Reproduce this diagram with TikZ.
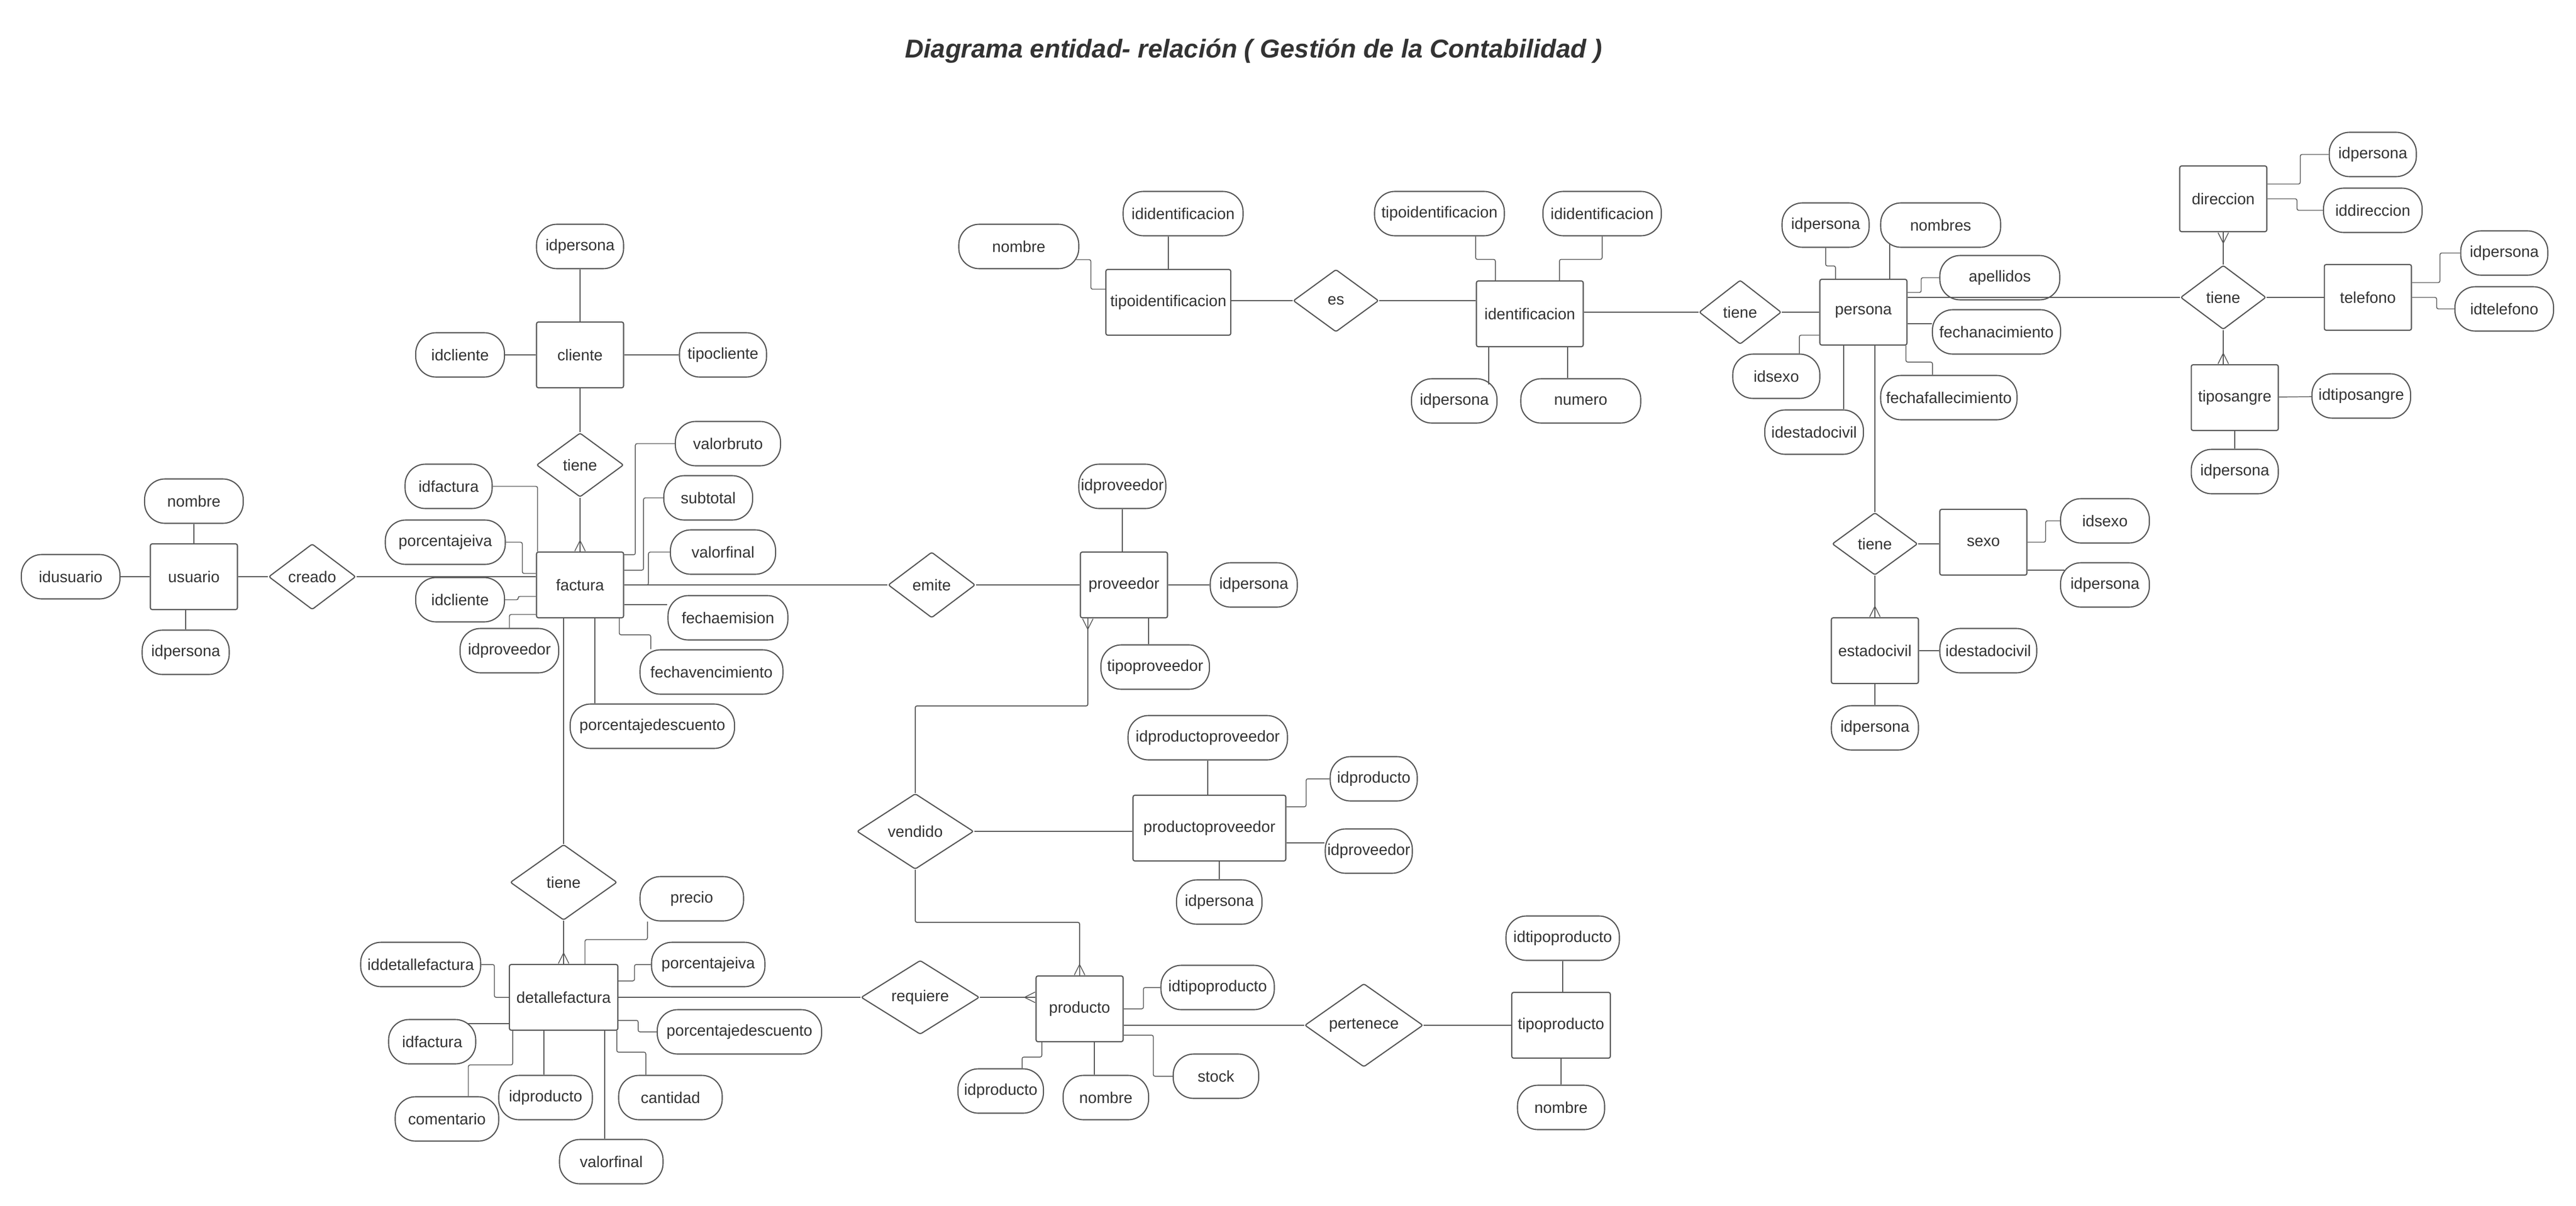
\documentclass[tikz,border=0pt]{standalone}
\usepackage{fontspec}
\setmainfont{Liberation Sans}
\usetikzlibrary{shapes.geometric,arrows.meta}
\definecolor{linegray}{HTML}{555555}
\definecolor{textgray}{HTML}{333333}

\begin{document}
\begin{tikzpicture}[
    x=0.05cm, y=-0.05cm,
    font=\fontsize{13.6}{16}\selectfont, text=textgray,
    entity/.style={rectangle, draw=linegray, line width=1pt, rounded corners=1.6pt, minimum width=2.65cm, minimum height=2cm, inner sep=1pt},
    rel/.style={diamond, draw=linegray, line width=1pt, rounded corners=1.5pt, minimum width=2.65cm, minimum height=2cm, inner sep=0pt},
    attr/.style={rectangle, draw=linegray, line width=1pt, rounded corners=0.62cm, minimum width=#1, minimum height=1.35cm, inner xsep=1pt},
    attr/.default=2.65cm,
    link/.style={draw=linegray, line width=0.7pt, rounded corners=1.5pt},
    many/.style={link, postaction={draw=linegray, line width=0.7pt, -{Straight Barb[reversed, length=0.32cm, width=0.32cm]}}}
]
    \useasboundingbox (0,0) rectangle (1567.67,734);

    \node[font=\fontsize{22.4}{26}\selectfont\bfseries\itshape] (titulo) at (763,31) {Diagrama entidad- relación ( Gestión de la Contabilidad )};

    % entidades
    \node[entity] (usuario) at (118,351) {usuario};
    \node[entity] (cliente) at (353,216) {cliente};
    \node[entity] (factura) at (353,356) {factura};
    \node[entity, minimum width=3.3cm] (detalle) at (343,607) {detallefactura};
    \node[entity] (proveedor) at (684,356) {proveedor};
    \node[entity, minimum width=4.65cm] (prodprov) at (736,504) {productoproveedor};
    \node[entity] (producto) at (657,614) {producto};
    \node[entity, minimum width=3cm] (tipoprod) at (950,624) {tipoproducto};
    \node[entity, minimum width=3.8cm] (tipoid) at (711,184) {tipoidentificacion};
    \node[entity, minimum width=3.25cm] (identif) at (931,191) {identificacion};
    \node[entity] (persona) at (1134,190) {persona};
    \node[entity] (direccion) at (1353,121) {direccion};
    \node[entity] (telefono) at (1441,181) {telefono};
    \node[entity] (tiposangre) at (1360,242) {tiposangre};
    \node[entity] (sexo) at (1207,330) {sexo};
    \node[entity] (estcivil) at (1141,396) {estadocivil};

    % relaciones
    \node[rel] (creado) at (190,351) {creado};
    \node[rel, minimum height=1.95cm] (tieneA) at (353,283) {tiene};
    \node[rel] (emite) at (567,356) {emite};
    \node[rel, minimum width=3.25cm, minimum height=2.3cm] (tieneB) at (343,537) {tiene};
    \node[rel, minimum width=3.55cm, minimum height=2.3cm] (vendido) at (557,506) {vendido};
    \node[rel, minimum width=3.6cm, minimum height=2.25cm] (requiere) at (560,607) {requiere};
    \node[rel, minimum width=3.6cm, minimum height=2.3cm] (pertenece) at (830,624) {pertenece};
    \node[rel, minimum width=2.6cm, minimum height=1.9cm] (es) at (813,183) {es};
    \node[rel, minimum width=2.5cm, minimum height=1.95cm] (tieneC) at (1059,190) {tiene};
    \node[rel, minimum width=2.6cm, minimum height=1.9cm] (tieneD) at (1141,331) {tiene};
    \node[rel, minimum width=2.6cm, minimum height=1.95cm] (tieneE) at (1353,181) {tiene};

    % atributos
    \node[attr=3cm] (usId) at (43,351) {idusuario};
    \node[attr=3cm] (usNombre) at (118,305) {nombre};
    \node[attr] (usPersona) at (113,397) {idpersona};
    \node[attr] (clPersona) at (353,150) {idpersona};
    \node[attr=2.7cm] (clId) at (280,216) {idcliente};
    \node[attr] (clTipo) at (440,216) {tipocliente};
    \node[attr=3.2cm] (faBruto) at (443,270) {valorbruto};
    \node[attr] (faId) at (273,296) {idfactura};
    \node[attr=2.7cm] (faSubtotal) at (431,303) {subtotal};
    \node[attr=3.65cm] (faIva) at (271,330) {porcentajeiva};
    \node[attr=3.2cm] (faFinal) at (440,336) {valorfinal};
    \node[attr=2.7cm] (faCliente) at (280,365) {idcliente};
    \node[attr=3.65cm] (faEmision) at (443,376) {fechaemision};
    \node[attr=3cm] (faProveedor) at (310,396) {idproveedor};
    \node[attr=4.35cm] (faVence) at (433,409) {fechavencimiento};
    \node[attr=5cm] (faDescuento) at (397,442) {porcentajedescuento};
    \node[attr=3.15cm] (dePrecio) at (421,547) {precio};
    \node[attr=3.45cm] (deIva) at (431,587) {porcentajeiva};
    \node[attr=3.65cm] (deId) at (256,587) {iddetallefactura};
    \node[attr=5cm] (deDescuento) at (450,628) {porcentajedescuento};
    \node[attr] (deFactura) at (263,634) {idfactura};
    \node[attr=3.15cm] (deComentario) at (272,681) {comentario};
    \node[attr=2.85cm] (deProducto) at (332,668) {idproducto};
    \node[attr=3.15cm] (deFinal) at (372,707) {valorfinal};
    \node[attr=3.15cm] (deCantidad) at (408,668) {cantidad};
    \node[attr=4.85cm] (ppId) at (735,449) {idproductoproveedor};
    \node[attr] (ppProducto) at (836,474) {idproducto};
    \node[attr] (ppProveedor) at (833,518) {idproveedor};
    \node[attr=2.6cm] (ppPersona) at (742,549) {idpersona};
    \node[attr] (pvId) at (683,296) {idproveedor};
    \node[attr] (pvPersona) at (763,356) {idpersona};
    \node[attr=3.3cm] (pvTipo) at (703,406) {tipoproveedor};
    \node[attr=2.6cm] (prId) at (609,664) {idproducto};
    \node[attr=2.6cm] (prNombre) at (673,668) {nombre};
    \node[attr=3.45cm] (prTipo) at (741,601) {idtipoproducto};
    \node[attr=2.6cm] (prStock) at (740,655) {stock};
    \node[attr=3.45cm] (tpId) at (951,571) {idtipoproducto};
    \node[attr] (tpNombre) at (950,674) {nombre};
    \node[attr=3.65cm] (tiNombre) at (620,150) {nombre};
    \node[attr=3.65cm] (tiId) at (720,130) {ididentificacion};
    \node[attr=3.95cm] (idTipo) at (876,130) {tipoidentificacion};
    \node[attr=3.6cm] (idId) at (975,130) {ididentificacion};
    \node[attr=2.6cm] (idPersona) at (885,244) {idpersona};
    \node[attr=3.65cm] (idNumero) at (962,244) {numero};
    \node[attr] (pePersona) at (1111,137) {idpersona};
    \node[attr=3.65cm] (peNombres) at (1181,137) {nombres};
    \node[attr=3.65cm] (peApellidos) at (1217,169) {apellidos};
    \node[attr=3.9cm] (peNacimiento) at (1215,202) {fechanacimiento};
    \node[attr=4.15cm] (peFallece) at (1186,242) {fechafallecimiento};
    \node[attr] (peSexo) at (1081,229) {idsexo};
    \node[attr=3cm] (peEstado) at (1104,263) {idestadocivil};
    \node[attr] (diPersona) at (1444,94) {idpersona};
    \node[attr=3cm] (diId) at (1444,128) {iddireccion};
    \node[attr] (tePersona) at (1524,154) {idpersona};
    \node[attr=3cm] (teId) at (1524,188) {idtelefono};
    \node[attr=3cm] (tsId) at (1437,241) {idtiposangre};
    \node[attr] (tsPersona) at (1360,287) {idpersona};
    \node[attr=2.7cm] (seId) at (1281,317) {idsexo};
    \node[attr=2.7cm] (sePersona) at (1281,356) {idpersona};
    \node[attr=2.95cm] (ecId) at (1210,396) {idestadocivil};
    \node[attr] (ecPersona) at (1141,443) {idpersona};

    % conexiones de las relaciones
    \draw[link] (usuario) -- (creado);
    \draw[link] (creado.east) -- (creado.east -| factura.west);
    \draw[link] (cliente) -- (tieneA);
    \draw[many] (tieneA) -- (factura);
    \draw[link] (factura) -- (emite);
    \draw[link] (emite) -- (proveedor);
    \draw[link] (factura.south -| tieneB) -- (tieneB);
    \draw[many] (tieneB) -- (detalle);
    \draw[link] (detalle) -- (requiere);
    \draw[many] (requiere.east) -- (requiere.east -| producto.west);
    \draw[many] (vendido.north) -- ++(0,-53) -| ([xshift=-1.1cm]proveedor.south);
    \draw[link] (vendido.east) -- (vendido.east -| prodprov.west);
    \draw[many] (vendido.south) -- ++(0,32) -| (producto.north);
    \draw[link] (pertenece.west -| producto.east) -- (pertenece.west);
    \draw[link] (pertenece) -- (tipoprod);
    \draw[link] (es.west -| tipoid.east) -- (es.west);
    \draw[link] (es.east) -- (es.east -| identif.west);
    \draw[link] (tieneC.west -| identif.east) -- (tieneC.west);
    \draw[link] (tieneC) -- (persona);
    \draw[link] (tieneE.west -| persona.east) -- (tieneE.west);
    \draw[many] (tieneE) -- (direccion);
    \draw[link] (tieneE) -- (telefono);
    \draw[many] (tieneE.south) -- (tieneE.south |- tiposangre.north);
    \draw[link] (tieneD.north |- persona.south) -- (tieneD.north);
    \draw[link] (tieneD.east) -- (tieneD.east -| sexo.west);
    \draw[many] (tieneD) -- (estcivil);

    % conexiones de los atributos
    \draw[link] (usId) -- (usuario);
    \draw[link] (usNombre) -- (usuario);
    \draw[link] (usPersona) -- (usPersona |- usuario.south);
    \draw[link] (clPersona) -- (cliente);
    \draw[link] (clId) -- (cliente);
    \draw[link] (clTipo) -- (cliente);
    \draw[link] (faBruto.west) -- ++(-24,0) |- ([yshift=-0.1cm]factura.north east);
    \draw[link] (faSubtotal.west) -- ++(-12,0) |- ([yshift=0.45cm]factura.east);
    \draw[link] (faFinal.west) -- ++(-13,0) |- (factura.east);
    \draw[link] ([yshift=-0.6cm]factura.east) -- ([yshift=-0.6cm]factura.east -| faEmision.west);
    \draw[link] ([xshift=-0.15cm]factura.south east) -- ++(0,10) -| ([xshift=-1.85cm]faVence.north);
    \draw[link] ([xshift=0.45cm]factura.south) -- ([xshift=0.45cm]factura.south |- faDescuento.north);
    \draw[link] (faId.east) -| ([xshift=0.05cm]factura.north west);
    \draw[link] (faIva.east) -- ++(10,0) |- ([yshift=0.35cm]factura.west);
    \draw[link] (faCliente.east) -- ++(8,0) |- ([yshift=-0.35cm]factura.west);
    \draw[link] (faProveedor.north) |- ([yshift=-0.9cm]factura.west);
    \draw[link] ([xshift=-1.35cm]dePrecio.south) -- ++(0,11) -| ([xshift=0.65cm]detalle.north);
    \draw[link] (deIva.west) -- ++(-10,0) |- ([yshift=0.5cm]detalle.east);
    \draw[link] (deId.east) -- ++(8,0) |- (detalle.west);
    \draw[link] ([yshift=-0.7cm]detalle.east) -- ++(12,0) |- (deDescuento.west);
    \draw[link] ([yshift=-0.8cm]detalle.west) -- ++(-25,0);
    \draw[link] ([xshift=0.65cm]deComentario.north) -- ++(0,-19) -| ([xshift=-1.55cm]detalle.south);
    \draw[link] ([xshift=-0.6cm]detalle.south) -- ([xshift=-0.6cm]detalle.south |- deProducto.north);
    \draw[link] ([xshift=1.25cm]detalle.south) -- ([xshift=1.25cm]detalle.south |- deFinal.north);
    \draw[link] ([xshift=-0.05cm]detalle.south east) -- ++(0,13) -| ([xshift=-0.75cm]deCantidad.north);
    \draw[link] ([xshift=-1.15cm]producto.south) -- ++(0,9) -| ([xshift=0.65cm]prId.north);
    \draw[link] ([xshift=0.45cm]producto.south) -- ([xshift=0.45cm]producto.south |- prNombre.north);
    \draw[link] (producto.east) -- ++(12,0) |- (prTipo.west);
    \draw[link] ([yshift=-0.8cm]producto.east) -- ++(18,0) |- (prStock.west);
    \draw[link] (tpId) -- (tpId |- tipoprod.north);
    \draw[link] (tpNombre) -- (tipoprod);
    \draw[link] (ppId) -- (ppId |- prodprov.north);
    \draw[link] ([yshift=0.65cm]prodprov.east) -- ++(12,0) |- (ppProducto.west);
    \draw[link] ([yshift=-0.45cm]prodprov.east) -- ([yshift=-0.45cm]prodprov.east -| ppProveedor.west);
    \draw[link] (ppPersona) -- (ppPersona |- prodprov.south);
    \draw[link] (pvId) -- (pvId |- proveedor.north);
    \draw[link] (pvPersona) -- (proveedor);
    \draw[link] ([xshift=0.75cm]proveedor.south) -- ([xshift=0.75cm]proveedor.south |- pvTipo.north);
    \draw[link] ([xshift=-0.1cm,yshift=-0.4cm]tiNombre.east) -- ++(9,0) |- ([yshift=0.4cm]tipoid.west);
    \draw[link] (tipoid.north) -- (tipoid.north |- tiId.south);
    \draw[link] ([xshift=1.1cm]idTipo.south) -- ++(0,14) -| ([xshift=-1.05cm]identif.north);
    \draw[link] (idId.south) -- ++(0,14) -| ([xshift=0.9cm]identif.north);
    \draw[link] ([xshift=-1.25cm]identif.south) -- ++(0,22.5);
    \draw[link] ([xshift=1.15cm]identif.south) -- ([xshift=1.15cm]identif.south |- idNumero.north);
    \draw[link] (pePersona.south) -- ++(0,11) -| ([xshift=-0.85cm]persona.north);
    \draw[link] ([xshift=0.8cm]persona.north) -- ++(0,-21.6);
    \draw[link] (peApellidos.west) -- ++(-11,0) |- ([yshift=0.6cm]persona.east);
    \draw[link] ([yshift=-0.35cm]persona.east) -- ([yshift=-0.35cm]persona.east -| peNacimiento.west);
    \draw[link] ([xshift=-0.05cm]persona.south east) -- ++(0,10) -| ([xshift=-0.5cm]peFallece.north);
    \draw[link] ([xshift=0.7cm]peSexo.north) |- ([yshift=-0.7cm]persona.west);
    \draw[link] ([xshift=-0.6cm]persona.south) -- ([xshift=-0.6cm]persona.south |- peEstado.north);
    \draw[link] ([yshift=0.45cm]direccion.east) -- ++(20,0) |- (diPersona.west);
    \draw[link] (direccion.east) -- ++(18,0) |- (diId.west);
    \draw[link] ([yshift=0.45cm]telefono.east) -- ++(17,0) |- (tePersona.west);
    \draw[link] (telefono.east) -- ++(15,0) |- (teId.west);
    \draw[link] (tiposangre) -- (tsId);
    \draw[link] (tsPersona) -- (tiposangre);
    \draw[link] (sexo.east) -- ++(11,0) |- (seId.west);
    \draw[link] ([yshift=-0.85cm]sexo.east) -- ([yshift=-0.85cm,xshift=0.14cm]sexo.east -| sePersona.west);
    \draw[link] (estcivil) -- (ecId);
    \draw[link] (ecPersona) -- (estcivil);
\end{tikzpicture}
\end{document}
